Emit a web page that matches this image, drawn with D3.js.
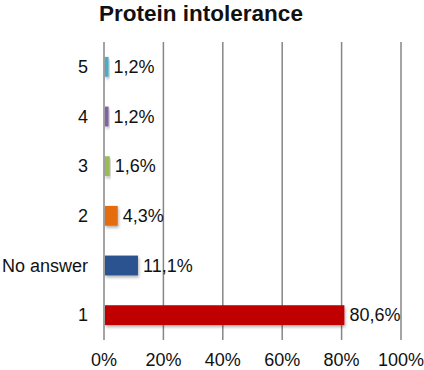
<!DOCTYPE html>
<html lang="en">
<head>
    <meta charset="UTF-8">
    <script src="https://d3js.org/d3.v7.min.js"></script>
    <title>Protein intolerance</title>
    <style>
      body { margin: 0; background: #fff; }
      text { font-family: "Liberation Sans", Arial, sans-serif; fill: #111; }
    </style>
</head>
<body>
    <script>
    // chart data, top to bottom
    var categories = ["5", "4", "3", "2", "No answer", "1"]
    var values = [1.2, 1.2, 1.6, 4.3, 11.1, 80.6]
    var colors = ["#4bacc6", "#8064a2", "#9bbb59", "#e46c0a", "#2c5290", "#c00000"]
    var ticks = [0, 20, 40, 60, 80, 100]

    var width = 424, height = 370
    var margin = { top: 42, right: 23, bottom: 30, left: 104 }

    var svg = d3.select("body").append("svg")
        .attr("width", width)
        .attr("height", height)

    var defs = svg.append("defs")
    var f = defs.append("filter").attr("id", "shadow")
        .attr("x", "-20%").attr("y", "-30%").attr("width", "140%").attr("height", "170%")
    f.append("feDropShadow")
        .attr("dx", 1).attr("dy", 2).attr("stdDeviation", 1.5)
        .attr("flood-color", "#000").attr("flood-opacity", 0.3)

    var x = d3.scaleLinear()
        .domain([0, 100])
        .range([margin.left, width - margin.right])

    var y = d3.scaleBand()
        .domain(categories)
        .range([margin.top, height - margin.bottom])
        .paddingInner(0.6)
        .paddingOuter(0.3)

    // title
    svg.append("text")
        .attr("x", 201)
        .attr("y", 21)
        .attr("text-anchor", "middle")
        .style("font-size", "22.5px")
        .style("font-weight", "bold")
        .text("Protein intolerance")

    // vertical gridlines
    svg.append("g")
        .selectAll("line")
        .data(ticks)
        .enter()
        .append("line")
        .attr("x1", function (d) { return x(d) })
        .attr("x2", function (d) { return x(d) })
        .attr("y1", margin.top)
        .attr("y2", height - margin.bottom)
        .attr("stroke", "#868686")
        .attr("stroke-width", 1.5)

    // bottom tick labels
    svg.append("g")
        .selectAll("text")
        .data(ticks)
        .enter()
        .append("text")
        .attr("x", function (d) { return x(d) })
        .attr("y", 366)
        .attr("text-anchor", "middle")
        .style("font-size", "18px")
        .text(function (d) { return d + "%" })

    // category labels
    svg.append("g")
        .selectAll("text")
        .data(categories)
        .enter()
        .append("text")
        .attr("x", 88)
        .attr("y", function (d) { return y(d) + y.bandwidth() / 2 })
        .attr("dy", "0.35em")
        .attr("text-anchor", "end")
        .style("font-size", "18px")
        .text(function (d) { return d })

    // bars
    svg.append("g")
        .selectAll("rect")
        .data(values)
        .enter()
        .append("rect")
        .attr("x", x(0) + 1)
        .attr("y", function (d, i) { return y(categories[i]) })
        .attr("width", function (d) { return x(d) - x(0) })
        .attr("height", y.bandwidth())
        .attr("fill", function (d, i) { return colors[i] })
        .attr("filter", "url(#shadow)")

    // value labels
    svg.append("g")
        .selectAll("text")
        .data(values)
        .enter()
        .append("text")
        .attr("x", function (d) { return x(d) + 6 })
        .attr("y", function (d, i) { return y(categories[i]) + y.bandwidth() / 2 })
        .attr("dy", "0.35em")
        .style("font-size", "18px")
        .text(function (d) { return d.toFixed(1).replace(".", ",") + "%" })
    </script>
</body>
</html>
